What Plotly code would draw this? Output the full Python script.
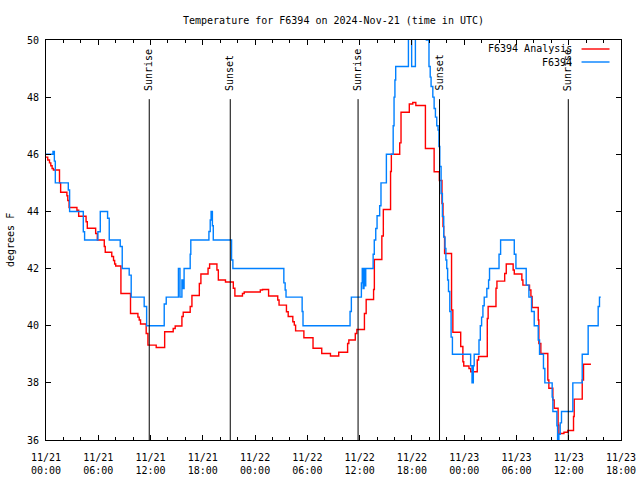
import plotly.graph_objects as go

# Hours since 2024-11-21 00:00 UTC
obs_hours = [0.0, 0.8, 0.96, 1.07, 2.56, 2.71, 4.28, 4.43, 5.96, 6.23, 7.07, 7.26, 8.52, 8.75, 9.55, 9.78,
             11.27, 11.55, 13.57, 13.8, 15.2, 15.38, 15.6, 15.75, 15.85, 16.55, 16.62, 18.7, 18.85, 18.95,
             19.1, 19.2, 21.3, 21.45, 27.3, 27.45, 27.55, 29.4, 29.5, 34.9, 35.05, 36.2, 36.3, 36.4, 36.5,
             36.6, 36.7, 37.55, 37.68, 37.85, 38.0, 38.3, 38.45, 39.07, 39.85, 39.95, 40.05, 40.14, 41.6,
             41.97, 42.4, 43.66, 43.96, 44.1, 44.2, 44.4, 44.55, 44.7, 44.85, 45.0, 45.1, 45.2, 45.35, 45.5,
             45.65, 45.8, 45.9, 46.0, 46.1, 46.2, 46.35, 46.5, 46.65, 48.74, 48.9, 49.05, 49.15, 49.7, 49.85,
             50.0, 50.15, 50.3, 50.6, 50.8, 50.91, 52.0, 52.18, 53.75, 53.94, 55.12, 55.43, 55.73, 56.04,
             56.5, 56.65, 57.1, 57.26, 58.1, 58.18, 58.64, 58.72, 58.87, 59.02, 59.17, 60.47, 61.55, 62.23,
             63.38, 63.53, 63.68]
obs_temps = [46.0, 46.1, 45.76, 45.0, 44.75, 44.0, 43.29, 43.0, 43.29, 44.0, 43.76, 43.0, 42.77, 42.0, 41.77, 41.0,
             40.67, 40.0, 40.76, 41.0, 42.0, 41.0, 41.6, 41.3, 42.0, 42.5, 43.0, 43.3, 43.7, 44.0,
             43.5, 43.0, 42.3, 42.0, 41.5, 41.25, 41.0, 40.5, 40.0, 40.5, 41.0, 41.5, 42.0, 41.3, 42.0,
             41.4, 42.0, 42.5, 43.0, 43.4, 43.85, 44.2, 45.0, 46.0, 47.0, 48.0, 48.6, 49.07, 51.0,
             49.07, 51.0, 50.0, 49.07, 48.7, 48.37, 48.0, 47.6, 47.3, 47.0, 46.85, 46.27, 45.57, 44.63, 43.82,
             43.1, 42.7, 42.3, 42.0, 41.6, 41.2, 40.5, 39.6, 39.0, 38.6, 38.0, 38.6, 39.0, 39.5, 40.0,
             40.3, 40.7, 41.0, 41.3, 41.6, 42.0, 42.5, 43.0, 42.5, 42.0, 41.42, 41.0, 40.5, 40.0,
             39.5, 39.0, 38.5, 38.0, 37.5, 37.0, 36.5, 35.8, 36.2, 36.6, 37.0, 38.0, 39.0, 40.0,
             40.67, 41.0, 41.0]

ana_hours = [0.0, 0.2, 0.4, 0.55, 0.7, 0.85, 1.55, 1.68, 2.4, 2.5, 2.65, 3.55, 3.75, 4.6, 4.74, 5.7, 5.89,
             6.69, 6.8, 7.55, 7.75, 7.88, 8.0, 8.6, 9.7, 10.55, 10.7, 10.85, 11.5, 11.7, 12.65, 13.62, 14.6,
             14.83, 15.6, 15.75, 16.55, 16.75, 17.6, 17.78, 18.6, 18.78, 19.62, 19.78, 20.6, 21.5, 21.68,
             22.55, 22.75, 24.6, 24.85, 25.55, 26.6, 26.75, 27.6, 27.8, 28.33, 28.5, 28.65, 29.6, 30.65,
             31.65, 32.65, 33.6, 34.62, 34.76, 35.5, 35.68, 36.55, 36.75, 37.6, 37.69, 38.55, 38.72, 39.55,
             39.64, 40.6, 40.75, 41.7, 42.1, 42.45, 43.55, 44.55, 45.15, 45.45, 45.57, 45.65, 45.75, 46.55,
             46.7, 47.6, 47.85, 47.95, 48.55, 48.75, 49.5, 49.65, 50.65, 50.75, 51.65, 51.76, 52.65, 52.83,
             53.62, 53.75, 54.62, 54.74, 55.5, 55.66, 55.8, 56.5, 56.57, 56.8, 57.6, 57.72, 58.18, 58.33,
             58.78, 58.87, 59.45, 59.9, 60.55, 60.63, 61.55, 61.7, 62.55]
ana_temps = [45.9, 45.8, 45.7, 45.6, 45.5, 45.45, 45.0, 44.67, 44.55, 44.38, 44.14, 44.04, 43.83, 43.64, 43.41, 43.23, 43.0,
             42.77, 42.57, 42.42, 42.28, 42.16, 42.09, 41.13, 40.43, 40.3, 40.2, 40.06, 39.73, 39.32, 39.24, 39.79, 39.9,
             39.99, 40.32, 40.47, 40.67, 41.06, 41.48, 41.81, 42.01, 42.16, 41.95, 41.6, 41.53, 41.31, 41.04,
             41.13, 41.18, 41.25, 41.27, 41.04, 40.9, 40.72, 40.49, 40.32, 40.14, 40.02, 39.82, 39.58, 39.21,
             39.03, 38.94, 39.07, 39.38, 39.5, 39.73, 39.87, 40.43, 40.92, 41.27, 42.32, 43.14, 44.07, 45.4,
             46.0, 46.4, 47.47, 47.76, 47.81, 47.71, 46.2, 45.39, 45.08, 44.28, 43.47, 43.12, 42.53, 40.55,
             39.77, 39.27, 38.74, 38.59, 38.5, 38.39, 38.8, 38.92, 40.25, 40.67, 41.31, 41.56, 41.83, 42.16,
             41.95, 41.81, 41.6, 41.42, 41.25, 41.02, 40.64, 40.2, 39.38, 39.03, 38.1, 37.81, 37.4, 37.11,
             36.52, 36.23, 36.27, 36.33, 36.82, 37.43, 38.1, 38.65, 38.65]

event_names = ["Sunrise", "Sunset", "Sunrise", "Sunset", "Sunrise"]
event_hours = [11.85, 21.15, 35.82, 45.17, 59.95]

x_tick_hours = [0, 6, 12, 18, 24, 30, 36, 42, 48, 54, 60, 66]
x_tick_labels = ["11/21<br>00:00", "11/21<br>06:00", "11/21<br>12:00", "11/21<br>18:00",
                 "11/22<br>00:00", "11/22<br>06:00", "11/22<br>12:00", "11/22<br>18:00",
                 "11/23<br>00:00", "11/23<br>06:00", "11/23<br>12:00", "11/23<br>18:00"]
y_ticks = [36, 38, 40, 42, 44, 46, 48, 50]

series_names = ["F6394 Analysis", "F6394"]
series_colors = ["#ff0000", "#0080ff"]

FONT = "DejaVu Sans Mono"
LW = 1.4

fig = go.Figure()
fig.add_trace(go.Scatter(x=ana_hours, y=ana_temps, mode="lines", name=series_names[0],
                         line=dict(color=series_colors[0], width=LW, shape="hv")))
fig.add_trace(go.Scatter(x=obs_hours, y=obs_temps, mode="lines", name=series_names[1],
                         line=dict(color=series_colors[1], width=LW, shape="hv")))

for name, h in zip(event_names, event_hours):
    fig.add_shape(type="line", xref="x", yref="y", x0=h, x1=h, y0=36, y1=47.93,
                  line=dict(color="black", width=1))
    fig.add_annotation(x=h, y=48.15, xref="x", yref="y", text=name, textangle=-90,
                       showarrow=False, xanchor="center", yanchor="bottom",
                       font=dict(family=FONT, size=10, color="black"))

# Gnuplot-style legend: text right-aligned, sample line to the right
plot_l, plot_r, plot_t, plot_b = 46, 621.5, 40, 440
pw, ph = plot_r - plot_l, plot_b - plot_t
for i, (name, col) in enumerate(zip(series_names, series_colors)):
    ypix = 49 + 13 * i
    yp = 1 - (ypix - plot_t) / ph
    fig.add_annotation(xref="paper", yref="paper", x=(574 - plot_l) / pw, y=yp, text=name,
                       showarrow=False, xanchor="right", yanchor="middle",
                       font=dict(family=FONT, size=10, color="black"))
    fig.add_shape(type="line", xref="paper", yref="paper", x0=(582 - plot_l) / pw,
                  x1=(610 - plot_l) / pw, y0=yp, y1=yp, line=dict(color=col, width=LW))

fig.add_annotation(xref="paper", yref="paper", x=(10 - plot_l) / pw, y=0.5, text="degrees F",
                   textangle=-90, showarrow=False, xanchor="center", yanchor="middle",
                   font=dict(family=FONT, size=10, color="black"))

fig.update_layout(
    width=640, height=480,
    margin=dict(l=plot_l, r=640 - plot_r, t=plot_t, b=480 - plot_b, autoexpand=False),
    paper_bgcolor="white", plot_bgcolor="white",
    showlegend=False,
    font=dict(family=FONT, size=10, color="black"),
    title=dict(text="Temperature for F6394 on 2024-Nov-21 (time in UTC)", x=0.5, xref="paper",
               y=1 - 20 / 480, yref="container", xanchor="center", yanchor="middle",
               font=dict(family=FONT, size=10, color="black")),
    xaxis=dict(range=[0, 66], tickmode="array", tickvals=x_tick_hours, ticktext=x_tick_labels,
               ticks="inside", ticklen=5, tickwidth=1, tickcolor="black", ticklabelstandoff=8,
               showline=True, linecolor="black", linewidth=1, mirror="allticks",
               showgrid=False, zeroline=False,
               minor=dict(tickmode="linear", tick0=0, dtick=2, ticks="inside", ticklen=3,
                          tickcolor="black", tickwidth=1, showgrid=False)),
    yaxis=dict(range=[36, 50], tickmode="array", tickvals=y_ticks,
               ticks="inside", ticklen=5, tickwidth=1, tickcolor="black", ticklabelstandoff=4,
               showline=True, linecolor="black", linewidth=1, mirror="allticks",
               showgrid=False, zeroline=False),
)

fig.write_html("out.html", config={"displayModeBar": False},
               post_script="document.body.style.margin='0';")
